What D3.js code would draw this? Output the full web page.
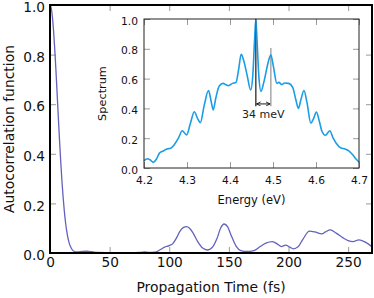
<!DOCTYPE html>
<html>
<head>
<meta charset="utf-8">
<script src="https://cdn.jsdelivr.net/npm/d3@7"></script>
<style>
  html, body { margin: 0; padding: 0; background: #fff; }
  svg { display: block; font-family: "DejaVu Sans", sans-serif; }
</style>
</head>
<body>
<svg id="chart" width="374" height="298"></svg>
<script>
// ---- main series: autocorrelation vs propagation time ----
const timeFs = [0,1,2,3,4,5,6,7,8,9,10,11,12,13,14,15,16,17,18,20,23,27,31,35,40,50,60,70,75,79,83,88,92,96,100,103,106,109,112,114.5,117,120,124,128,132,136,140,143,146,149,152,156,160,165,171,176,181,186.5,191,194,197.5,201,204,208,212,217.5,222,228,231,235,240,246,250,254,259,264,270];
const autocorr = [1.0,0.988,0.952,0.895,0.82,0.735,0.64,0.546,0.454,0.368,0.291,0.225,0.17,0.124,0.089,0.062,0.042,0.028,0.018,0.007,0.004,0.006,0.007,0.005,0.002,0.001,0.0,0.001,0.002,0.004,0.002,0.003,0.012,0.024,0.03,0.038,0.06,0.088,0.103,0.106,0.1,0.08,0.045,0.02,0.012,0.022,0.058,0.1,0.117,0.105,0.07,0.028,0.01,0.006,0.01,0.025,0.04,0.046,0.035,0.026,0.032,0.024,0.017,0.025,0.055,0.088,0.085,0.077,0.085,0.093,0.08,0.06,0.05,0.046,0.053,0.045,0.025];

// ---- inset series: spectrum vs energy ----
const energyEv = [4.2,4.208,4.214,4.222,4.229,4.236,4.245,4.253,4.262,4.27,4.28,4.289,4.299,4.308,4.317,4.325,4.331,4.34,4.35,4.356,4.361,4.367,4.375,4.384,4.39,4.396,4.406,4.414,4.42,4.426,4.432,4.44,4.448,4.453,4.457,4.46,4.463,4.467,4.472,4.479,4.488,4.495,4.501,4.509,4.514,4.52,4.527,4.536,4.546,4.553,4.559,4.565,4.572,4.579,4.588,4.594,4.601,4.608,4.614,4.622,4.632,4.64,4.647,4.658,4.667,4.677,4.686,4.693,4.7];
const spectrum = [0.05,0.062,0.055,0.038,0.06,0.1,0.114,0.128,0.132,0.155,0.2,0.25,0.222,0.3,0.378,0.33,0.304,0.42,0.52,0.45,0.39,0.47,0.55,0.568,0.56,0.552,0.568,0.575,0.66,0.763,0.72,0.62,0.523,0.62,0.85,1.0,0.85,0.62,0.515,0.58,0.7,0.76,0.68,0.568,0.575,0.56,0.57,0.568,0.54,0.46,0.4,0.46,0.52,0.44,0.3,0.33,0.375,0.31,0.245,0.22,0.25,0.2,0.166,0.134,0.128,0.114,0.087,0.06,0.04];

// ---- ticks ----
const mainXTicks = [0,50,100,150,200,250];
const mainYTicks = [0,0.2,0.4,0.6,0.8,1.0];
const insetXTicks = [4.2,4.3,4.4,4.5,4.6,4.7];
const insetYTicks = [0,0.2,0.4,0.6,0.8,1.0];

// ---- annotation (splitting of the peaks) ----
const splitLines = [ {e: 4.46, top: 1.0, color: "#444"}, {e: 4.495, top: 0.805, color: "#999"} ];
const splitBottom = 0.415;
const splitArrowLevel = 0.43;
const splitLabel = "34 meV";
const splitLabelLevel = 0.335;

const svg = d3.select("#chart");

const x = d3.scaleLinear().domain([0, 270]).range([50, 372]);
const y = d3.scaleLinear().domain([0, 1]).range([253, 5]);

const tickColor = "#9a9a9a";
const tickLen = 6;

function styleAxis(g) {
  g.select(".domain").remove();
  g.selectAll(".tick line").attr("stroke", tickColor).attr("stroke-width", 1);
}

// main axes
const gxB = svg.append("g").attr("transform", `translate(0,${y(0)})`)
  .call(d3.axisBottom(x).tickValues(mainXTicks).tickSize(-tickLen).tickFormat(d3.format("d")));
styleAxis(gxB);
gxB.selectAll("text").attr("dy", null).attr("y", 14).attr("font-size", 13.7)
  .attr("font-family", "DejaVu Sans").attr("fill", "#111");

const gxT = svg.append("g").attr("transform", `translate(0,${y(1)})`)
  .call(d3.axisTop(x).tickValues(mainXTicks).tickSize(-tickLen).tickFormat(""));
styleAxis(gxT);

const gyL = svg.append("g").attr("transform", `translate(${x(0)},0)`)
  .call(d3.axisLeft(y).tickValues(mainYTicks).tickSize(-tickLen).tickPadding(5).tickFormat(d3.format(".1f")));
styleAxis(gyL);
gyL.selectAll("text").attr("dy", "0.49em").attr("font-size", 13.7)
  .attr("font-family", "DejaVu Sans").attr("fill", "#111");

const gyR = svg.append("g").attr("transform", `translate(${x(270)},0)`)
  .call(d3.axisRight(y).tickValues(mainYTicks).tickSize(-tickLen).tickFormat(""));
styleAxis(gyR);

// main curve
const mainData = timeFs.map((t, i) => [t, autocorr[i]]);
svg.append("path")
  .datum(mainData)
  .attr("fill", "none")
  .attr("stroke", "#6262bd")
  .attr("stroke-width", 1.3)
  .attr("d", d3.line().x(d => x(d[0])).y(d => y(d[1])).curve(d3.curveMonotoneX));

// main frame
svg.append("rect")
  .attr("x", x(0)).attr("y", y(1))
  .attr("width", x(270) - x(0)).attr("height", y(0) - y(1))
  .attr("fill", "none").attr("stroke", "#000").attr("stroke-width", 2);

// main labels
svg.append("text")
  .attr("x", (x(0) + x(270)) / 2 ).attr("y", 292)
  .attr("text-anchor", "middle").attr("font-size", 13.9).attr("fill", "#111")
  .text("Propagation Time (fs)");
svg.append("text")
  .attr("transform", `translate(14,${(y(0) + y(1)) / 2}) rotate(-90)`)
  .attr("text-anchor", "middle").attr("font-size", 13.9).attr("fill", "#111")
  .text("Autocorrelation function");

// ---- inset ----
const xi = d3.scaleLinear().domain([4.2, 4.7]).range([144, 359]);
const yi = d3.scaleLinear().domain([0, 1]).range([168, 19]);

svg.append("rect")
  .attr("x", xi(4.2)).attr("y", yi(1))
  .attr("width", xi(4.7) - xi(4.2)).attr("height", yi(0) - yi(1))
  .attr("fill", "#fff");

const ixB = svg.append("g").attr("transform", `translate(0,${yi(0)})`)
  .call(d3.axisBottom(xi).tickValues(insetXTicks).tickSize(-tickLen).tickFormat(d3.format(".1f")));
styleAxis(ixB);
ixB.selectAll("text").attr("dy", null).attr("y", 15.5).attr("font-size", 10.7)
  .attr("font-family", "DejaVu Sans").attr("fill", "#111");

const ixT = svg.append("g").attr("transform", `translate(0,${yi(1)})`)
  .call(d3.axisTop(xi).tickValues(insetXTicks).tickSize(-tickLen).tickFormat(""));
styleAxis(ixT);

const iyL = svg.append("g").attr("transform", `translate(${xi(4.2)},0)`)
  .call(d3.axisLeft(yi).tickValues(insetYTicks).tickSize(-tickLen).tickPadding(6).tickFormat(d3.format(".1f")));
styleAxis(iyL);
iyL.selectAll("text").attr("dy", "0.48em").attr("font-size", 10.7)
  .attr("font-family", "DejaVu Sans").attr("fill", "#111");

const iyR = svg.append("g").attr("transform", `translate(${xi(4.7)},0)`)
  .call(d3.axisRight(yi).tickValues(insetYTicks).tickSize(-tickLen).tickFormat(""));
styleAxis(iyR);

// annotation lines
splitLines.forEach(s => {
  svg.append("line")
    .attr("x1", xi(s.e)).attr("x2", xi(s.e))
    .attr("y1", yi(s.top)).attr("y2", yi(splitBottom))
    .attr("stroke", s.color).attr("stroke-width", 1.3);
});

// spectrum curve
const insetData = energyEv.map((e, i) => [e, spectrum[i]]);
svg.append("path")
  .datum(insetData)
  .attr("fill", "none")
  .attr("stroke", "#1a9de6")
  .attr("stroke-width", 1.6)
  .attr("stroke-linejoin", "round")
  .attr("d", d3.line().x(d => xi(d[0])).y(d => yi(d[1])).curve(d3.curveMonotoneX));

// first line drawn again faintly over the peak
svg.append("line")
  .attr("x1", xi(splitLines[0].e)).attr("x2", xi(splitLines[0].e))
  .attr("y1", yi(splitLines[0].top)).attr("y2", yi(splitBottom))
  .attr("stroke", splitLines[0].color).attr("stroke-width", 1.0).attr("opacity", 0.6);

// arrow markers
const defs = svg.append("defs");
defs.append("marker")
  .attr("id", "arr").attr("viewBox", "0 -5 10 10")
  .attr("refX", 9).attr("refY", 0)
  .attr("markerWidth", 5).attr("markerHeight", 5)
  .attr("markerUnits", "userSpaceOnUse")
  .attr("orient", "auto-start-reverse")
  .append("path").attr("d", "M1,-4L9,0L1,4").attr("fill", "none")
  .attr("stroke", "#000").attr("stroke-width", 1.6);

svg.append("line")
  .attr("x1", xi(splitLines[0].e) + 0.8).attr("x2", xi(splitLines[1].e) - 0.8)
  .attr("y1", yi(splitArrowLevel)).attr("y2", yi(splitArrowLevel))
  .attr("stroke", "#000").attr("stroke-width", 0.9)
  .attr("marker-start", "url(#arr)").attr("marker-end", "url(#arr)");

svg.append("text")
  .attr("x", xi((splitLines[0].e + splitLines[1].e) / 2)).attr("y", yi(splitLabelLevel))
  .attr("text-anchor", "middle").attr("font-size", 11).attr("fill", "#222")
  .text(splitLabel);

// inset frame
svg.append("rect")
  .attr("x", xi(4.2)).attr("y", yi(1))
  .attr("width", xi(4.7) - xi(4.2)).attr("height", yi(0) - yi(1))
  .attr("fill", "none").attr("stroke", "#222").attr("stroke-width", 1);

// inset labels
svg.append("text")
  .attr("x", (xi(4.2) + xi(4.7)) / 2).attr("y", 204)
  .attr("text-anchor", "middle").attr("font-size", 11.5).attr("fill", "#111")
  .text("Energy (eV)");
svg.append("text")
  .attr("transform", `translate(105.5,${(yi(0) + yi(1)) / 2}) rotate(-90)`)
  .attr("text-anchor", "middle").attr("font-size", 11.3).attr("fill", "#111")
  .text("Spectrum");
</script>
</body>
</html>
